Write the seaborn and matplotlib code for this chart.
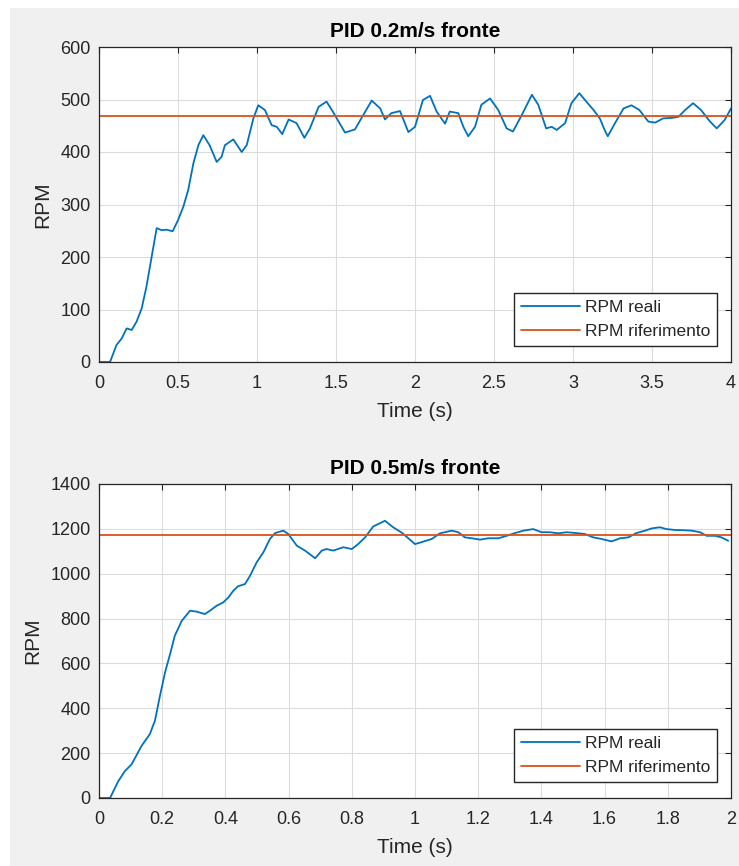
import matplotlib
matplotlib.use("Agg")
import matplotlib.pyplot as plt
import seaborn as sns
import pandas as pd
from matplotlib.patches import Rectangle

# ---------------- data ----------------
top_title = "PID 0.2m/s fronte"
bot_title = "PID 0.5m/s fronte"
series_names = ["RPM reali", "RPM riferimento"]

top_time = [0, 0.07, 0.11, 0.144, 0.175, 0.207, 0.238, 0.27, 0.30, 0.333, 0.365, 0.397,
            0.428, 0.466, 0.50, 0.534, 0.565, 0.597, 0.629, 0.66, 0.70, 0.745, 0.776,
            0.797, 0.85, 0.903, 0.935, 0.977, 1.008, 1.05, 1.093, 1.125, 1.16, 1.20,
            1.25, 1.30, 1.335, 1.39, 1.44, 1.48, 1.557, 1.62, 1.66, 1.726, 1.78, 1.81,
            1.85, 1.905, 1.958, 2.0, 2.05, 2.095, 2.137, 2.19, 2.22, 2.274, 2.306,
            2.337, 2.38, 2.42, 2.475, 2.527, 2.58, 2.62, 2.675, 2.74, 2.78, 2.83,
            2.865, 2.897, 2.95, 2.99, 3.04, 3.076, 3.13, 3.17, 3.20, 3.22, 3.266,
            3.32, 3.37, 3.42, 3.477, 3.52, 3.57, 3.625, 3.667, 3.71, 3.76, 3.81,
            3.867, 3.91, 3.96, 4.0]
top_rpm = [0, 0, 32, 45, 64, 61, 77, 102, 143, 200, 255, 251,
           252, 249, 270, 296, 328, 378, 413, 432, 413, 381, 391,
           413, 424, 400, 413, 464, 489, 480, 451, 448, 434, 462,
           455, 427, 445, 486, 496, 477, 437, 443, 464, 498, 483, 462,
           474, 478, 438, 448, 499, 507, 477, 454, 477, 474, 448,
           430, 448, 490, 502, 480, 445, 439, 470, 509, 490, 445,
           448, 442, 455, 493, 512, 499, 480, 464, 442, 430, 455,
           483, 489, 480, 458, 456, 464, 465, 467, 480, 493, 480,
           458, 445, 461, 483]
top_ref_time = [0, 4]
top_ref_rpm = [468, 468]

bot_time = [0, 0.035, 0.061, 0.082, 0.103, 0.135, 0.161, 0.177, 0.193, 0.209, 0.225,
            0.24, 0.262, 0.288, 0.309, 0.335, 0.351, 0.372, 0.393, 0.41, 0.425, 0.44,
            0.462, 0.478, 0.499, 0.52, 0.541, 0.557, 0.583, 0.599, 0.626, 0.652,
            0.684, 0.705, 0.72, 0.741, 0.773, 0.80, 0.82, 0.842, 0.868, 0.905, 0.931,
            0.958, 0.979, 1.0, 1.026, 1.053, 1.079, 1.116, 1.137, 1.158, 1.18, 1.206,
            1.232, 1.264, 1.29, 1.316, 1.343, 1.374, 1.40, 1.427, 1.453, 1.48, 1.512,
            1.538, 1.564, 1.59, 1.622, 1.649, 1.675, 1.70, 1.728, 1.749, 1.775,
            1.796, 1.823, 1.849, 1.876, 1.902, 1.923, 1.95, 1.97, 1.991]
bot_rpm = [0, 0, 75, 120, 150, 233, 285, 345, 456, 560, 642,
           724, 790, 835, 831, 820, 835, 857, 872, 895, 924, 944,
           954, 991, 1051, 1095, 1155, 1181, 1192, 1177, 1125, 1103,
           1069, 1103, 1110, 1103, 1118, 1110, 1132, 1162, 1211, 1236, 1207,
           1183, 1158, 1132, 1143, 1155, 1180, 1192, 1185, 1162, 1158, 1152,
           1158, 1158, 1169, 1181, 1192, 1199, 1185, 1185, 1180, 1185, 1181,
           1177, 1162, 1155, 1144, 1158, 1162, 1181, 1192, 1202, 1207,
           1199, 1195, 1194, 1192, 1185, 1169, 1169, 1162, 1147]
bot_ref_time = [0, 2]
bot_ref_rpm = [1172, 1172]

top_xticks = [0, 0.5, 1, 1.5, 2, 2.5, 3, 3.5, 4]
top_xticklabels = ["0", "0.5", "1", "1.5", "2", "2.5", "3", "3.5", "4"]
top_yticks = [0, 100, 200, 300, 400, 500, 600]
bot_xticks = [0, 0.2, 0.4, 0.6, 0.8, 1.0, 1.2, 1.4, 1.6, 1.8, 2.0]
bot_xticklabels = ["0", "0.2", "0.4", "0.6", "0.8", "1", "1.2", "1.4", "1.6", "1.8", "2"]
bot_yticks = [0, 200, 400, 600, 800, 1000, 1200, 1400]
x_label = "Time (s)"
y_label = "RPM"

# ---------------- style ----------------
sns.set_style("white")
plt.rcParams["font.family"] = ["Liberation Sans", "DejaVu Sans"]
TXT = "#262626"
BLUE = "#0072BD"
ORANGE = "#D95319"

fig = plt.figure(figsize=(7.39, 8.66), dpi=100, facecolor="white")
fig.patches.append(Rectangle((10 / 739, 0), 1, (866 - 8) / 866, transform=fig.transFigure,
                             facecolor="#f0f0f0", edgecolor="none", zorder=-10))

ax1 = fig.add_axes([99 / 739, (866 - 362) / 866, 632 / 739, 315 / 866])
ax2 = fig.add_axes([99 / 739, (866 - 798) / 866, 632 / 739, 314 / 866])


def draw(ax, t, rpm, rt, rr, title, xlim, ylim, xt, xtl, yt):
    df = pd.DataFrame({"t": t, "rpm": rpm})
    dref = pd.DataFrame({"t": rt, "rpm": rr})
    sns.lineplot(data=df, x="t", y="rpm", ax=ax, color=BLUE, lw=1.3,
                 estimator=None, label=series_names[0])
    sns.lineplot(data=dref, x="t", y="rpm", ax=ax, color=ORANGE, lw=1.3,
                 estimator=None, label=series_names[1])
    ax.set_facecolor("white")
    ax.set_xlim(*xlim)
    ax.set_ylim(*ylim)
    ax.set_xticks(xt)
    ax.set_xticklabels(xtl)
    ax.set_yticks(yt)
    ax.set_yticklabels([str(v) for v in yt])
    ax.grid(True, color="#dcdcdc", lw=0.8)
    ax.set_axisbelow(True)
    for s in ax.spines.values():
        s.set_visible(True)
        s.set_color(TXT)
        s.set_linewidth(0.9)
    ax.tick_params(direction="in", length=4, width=0.8, color=TXT, labelcolor=TXT,
                   labelsize=13, top=True, right=True)
    ax.tick_params(axis="x", pad=9)
    ax.tick_params(axis="y", pad=6)
    ax.set_xlabel(x_label, fontsize=15, color=TXT, labelpad=7.5)
    ax.set_ylabel(y_label, fontsize=15, color=TXT, labelpad=6)
    ax.set_title(title, fontsize=15, fontweight="bold", color="black", pad=7.5)
    leg = ax.legend(loc="lower right", bbox_to_anchor=(0.978, 0.051), borderaxespad=0,
                    fontsize=12.5, fancybox=False, framealpha=1, edgecolor=TXT,
                    handlelength=3.4, handletextpad=0.3, labelspacing=0.52,
                    borderpad=0.4)
    leg.get_frame().set_linewidth(1.0)
    for txt in leg.get_texts():
        txt.set_color(TXT)


draw(ax1, top_time, top_rpm, top_ref_time, top_ref_rpm, top_title, (0, 4), (0, 600),
     top_xticks, top_xticklabels, top_yticks)
draw(ax2, bot_time, bot_rpm, bot_ref_time, bot_ref_rpm, bot_title, (0, 2), (0, 1400),
     bot_xticks, bot_xticklabels, bot_yticks)

fig.savefig("out.png", dpi=100, facecolor=fig.get_facecolor())
